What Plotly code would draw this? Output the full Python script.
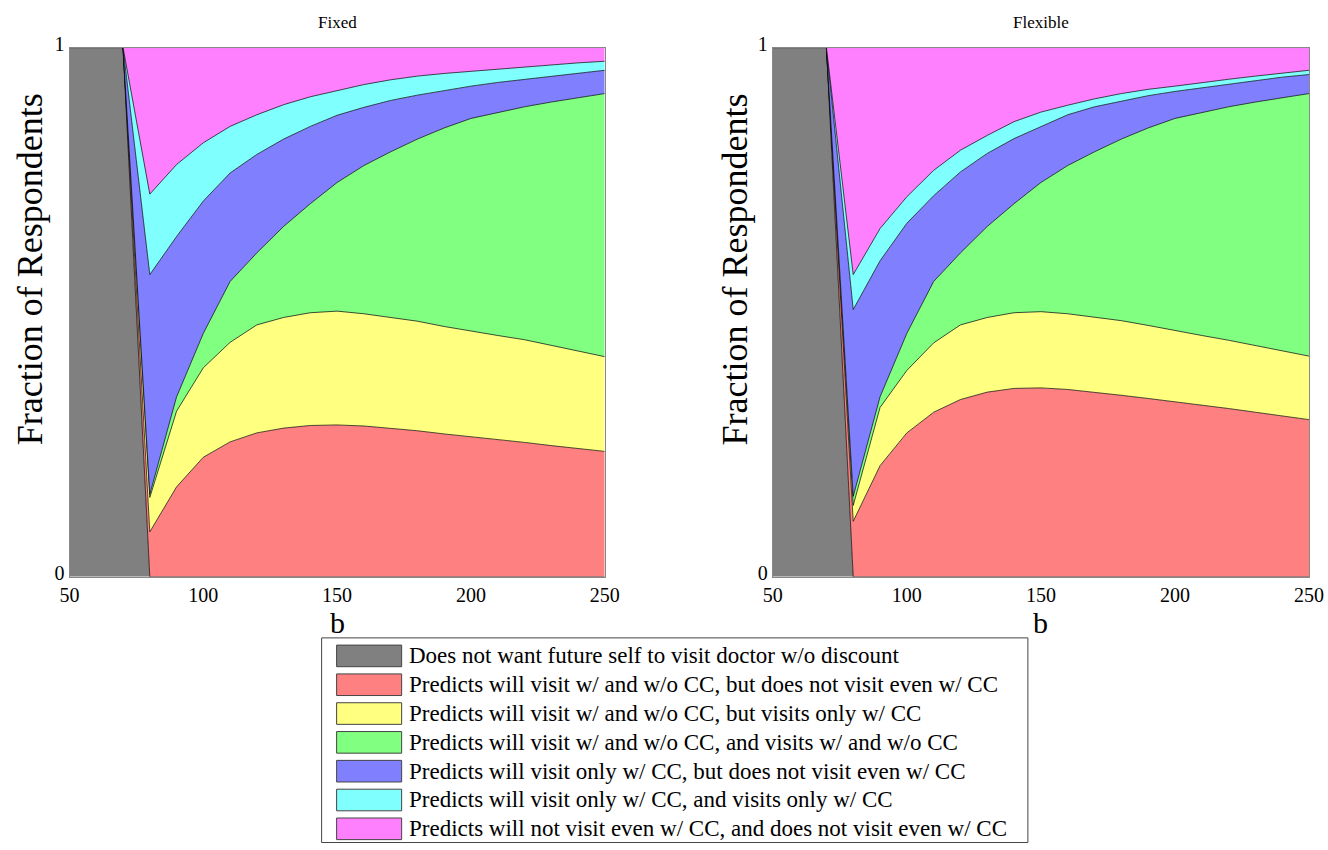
import plotly.graph_objects as go

W, H = 1328, 850

b_values = [50, 60, 70, 80, 90, 100, 110, 120, 130, 140, 150, 160, 170, 180, 190, 200, 210, 220, 230, 240, 250]

category_names = [
    "Does not want future self to visit doctor w/o discount",
    "Predicts will visit w/ and w/o CC, but does not visit even w/ CC",
    "Predicts will visit w/ and w/o CC, but visits only w/ CC",
    "Predicts will visit w/ and w/o CC, and visits w/ and w/o CC",
    "Predicts will visit only w/ CC, but does not visit even w/ CC",
    "Predicts will visit only w/ CC, and visits only w/ CC",
    "Predicts will not visit even w/ CC, and does not visit even w/ CC",
]
category_colors = ["#808080", "#FF8080", "#FFFF80", "#80FF80", "#8080FF", "#80FFFF", "#FF80FF"]

panel_titles = ["Fixed", "Flexible"]

# Cumulative upper edge of each category (stacked fraction of respondents)
fixed_grey = [1, 1, 1, 0, 0, 0, 0, 0, 0, 0, 0, 0, 0, 0, 0, 0, 0, 0, 0, 0, 0]
fixed_red = [1, 1, 1, 0.085, 0.170, 0.226, 0.255, 0.272, 0.281, 0.286, 0.287, 0.285, 0.281, 0.276, 0.270, 0.265, 0.259, 0.254, 0.248, 0.243, 0.237]
fixed_yellow = [1, 1, 1, 0.150, 0.313, 0.395, 0.443, 0.476, 0.490, 0.499, 0.502, 0.497, 0.490, 0.483, 0.473, 0.464, 0.456, 0.448, 0.437, 0.427, 0.416]
fixed_green = [1, 1, 1, 0.156, 0.340, 0.460, 0.558, 0.612, 0.662, 0.705, 0.745, 0.777, 0.803, 0.827, 0.848, 0.866, 0.877, 0.888, 0.897, 0.905, 0.913]
fixed_blue = [1, 1, 1, 0.571, 0.643, 0.710, 0.763, 0.798, 0.827, 0.851, 0.872, 0.887, 0.900, 0.910, 0.919, 0.927, 0.934, 0.940, 0.946, 0.952, 0.957]
fixed_cyan = [1, 1, 1, 0.723, 0.779, 0.820, 0.851, 0.873, 0.892, 0.907, 0.919, 0.930, 0.939, 0.946, 0.951, 0.955, 0.960, 0.964, 0.968, 0.971, 0.974]
fixed_magenta = [1] * 21

flex_grey = [1, 1, 1, 0, 0, 0, 0, 0, 0, 0, 0, 0, 0, 0, 0, 0, 0, 0, 0, 0, 0]
flex_red = [1, 1, 1, 0.105, 0.210, 0.272, 0.311, 0.335, 0.349, 0.356, 0.357, 0.354, 0.349, 0.343, 0.337, 0.331, 0.325, 0.318, 0.311, 0.304, 0.297]
flex_yellow = [1, 1, 1, 0.135, 0.320, 0.390, 0.442, 0.476, 0.490, 0.499, 0.501, 0.497, 0.491, 0.484, 0.475, 0.465, 0.456, 0.447, 0.437, 0.427, 0.417]
flex_green = [1, 1, 1, 0.152, 0.340, 0.460, 0.558, 0.612, 0.662, 0.705, 0.745, 0.777, 0.803, 0.827, 0.848, 0.866, 0.877, 0.888, 0.897, 0.905, 0.913]
flex_blue = [1, 1, 1, 0.505, 0.597, 0.668, 0.720, 0.765, 0.800, 0.828, 0.851, 0.873, 0.888, 0.899, 0.909, 0.917, 0.924, 0.931, 0.938, 0.944, 0.949]
flex_cyan = [1, 1, 1, 0.571, 0.658, 0.718, 0.768, 0.806, 0.834, 0.860, 0.878, 0.891, 0.903, 0.913, 0.921, 0.927, 0.934, 0.940, 0.946, 0.952, 0.957]
flex_magenta = [1] * 21

x_ticks = [50, 100, 150, 200, 250]
y_ticks = [0, 1]

panels = [
    [fixed_grey, fixed_red, fixed_yellow, fixed_green, fixed_blue, fixed_cyan, fixed_magenta],
    [flex_grey, flex_red, flex_yellow, flex_green, flex_blue, flex_cyan, flex_magenta],
]

FONT = "Liberation Serif"
fig = go.Figure()

for p, layers in enumerate(panels):
    xa = "x" if p == 0 else "x2"
    ya = "y" if p == 0 else "y2"
    for i, (edge, name, color) in enumerate(zip(layers, category_names, category_colors)):
        fig.add_trace(go.Scatter(
            x=b_values, y=edge, mode="lines", name=name,
            line=dict(color="black", width=0.7),
            fill="tozeroy" if i == 0 else "tonexty",
            fillcolor=color, showlegend=False, hoverinfo="skip",
            xaxis=xa, yaxis=ya,
        ))

# The captured picture shows the page slightly inset and scaled; map target
# picture pixels to figure pixels accordingly.
SX, SY, OX, OY = 0.9808, 0.9735, 10.5, 10.5

def px2fx(px):
    return ((px - OX) / SX) / W

def px2fy(py):
    return 1 - ((py - OY) / SY) / H

left_dom = [px2fx(70), px2fx(605)]
right_dom = [px2fx(773), px2fx(1309)]
y_dom = [px2fy(572), px2fy(43)]

axis_common = dict(
    showgrid=False, zeroline=False, showline=True, mirror=True,
    linecolor="#888888", linewidth=1, ticks="", layer="above traces",
    tickfont=dict(family=FONT, size=20, color="black"),
)

fig.update_layout(
    width=W, height=H, autosize=False, showlegend=False,
    margin=dict(l=0, r=0, t=0, b=0, pad=0),
    paper_bgcolor="white", plot_bgcolor="white",
    xaxis=dict(domain=left_dom, range=[50, 250], tickvals=x_ticks, anchor="y", **axis_common),
    yaxis=dict(domain=y_dom, range=[0, 1], tickvals=y_ticks, anchor="x", ticklabelshift=-4, **axis_common),
    xaxis2=dict(domain=right_dom, range=[50, 250], tickvals=x_ticks, anchor="y2", **axis_common),
    yaxis2=dict(domain=y_dom, range=[0, 1], tickvals=y_ticks, anchor="x2", ticklabelshift=-4, **axis_common),
)

annotations = []
for p, dom in enumerate([left_dom, right_dom]):
    cx = (dom[0] + dom[1]) / 2
    annotations.append(dict(x=cx, y=px2fy(18), xref="paper", yref="paper", text=panel_titles[p],
                            showarrow=False, font=dict(family=FONT, size=17, color="black"),
                            xanchor="center", yanchor="middle"))
    annotations.append(dict(x=cx, y=px2fy(618), xref="paper", yref="paper", text="b",
                            showarrow=False, font=dict(family=FONT, size=30, color="black"),
                            xanchor="center", yanchor="middle"))
    annotations.append(dict(x=px2fx(30 if p == 0 else 735), y=px2fy(265), xref="paper", yref="paper",
                            text="Fraction of Respondents", textangle=-90,
                            showarrow=False, font=dict(family=FONT, size=36, color="black"),
                            xanchor="center", yanchor="middle"))

# Custom legend box
box_top, box_bottom = 633, 837.5
shapes = [dict(type="rect", xref="paper", yref="paper",
               x0=px2fx(322), x1=px2fx(1028), y0=px2fy(box_bottom), y1=px2fy(box_top),
               line=dict(color="#444444", width=1), fillcolor="white", layer="above")]
row0, pitch, half = 651, 28.8, 10.8
for i, (name, color) in enumerate(zip(category_names, category_colors)):
    cy = row0 + i * pitch
    shapes.append(dict(type="rect", xref="paper", yref="paper",
                       x0=px2fx(337), x1=px2fx(402), y0=px2fy(cy + half), y1=px2fy(cy - half),
                       line=dict(color="#444444", width=1), fillcolor=color, layer="above"))
    annotations.append(dict(x=px2fx(407), y=px2fy(cy), xref="paper", yref="paper", text=name,
                            showarrow=False, font=dict(family=FONT, size=23, color="black"),
                            xanchor="left", yanchor="middle"))

fig.update_layout(annotations=annotations, shapes=shapes)
fig.write_html("out.html")
